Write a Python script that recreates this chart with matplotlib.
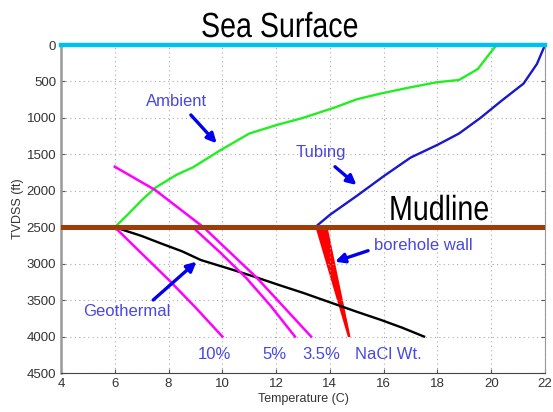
import matplotlib
matplotlib.use('Agg')
import matplotlib.pyplot as plt
from matplotlib.textpath import TextPath
from matplotlib.patches import PathPatch
from matplotlib.font_manager import FontProperties
from matplotlib.transforms import Affine2D, IdentityTransform

# data (temperature in C, depth in ft)
amb_t = [6.0, 6.5, 7.0, 7.5, 8.3, 8.9, 9.9, 11.0, 12.0, 13.0, 14.2, 15.0, 15.9, 17.0, 18.0, 18.8, 19.5, 19.95, 20.2]
amb_d = [2500, 2320, 2130, 1960, 1780, 1680, 1450, 1215, 1100, 1000, 855, 745, 665, 580, 510, 480, 330, 114, 0]

tub_t = [13.45, 14.0, 15.0, 16.0, 17.0, 18.0, 18.8, 19.6, 20.4, 21.2, 21.7, 22.0]
tub_d = [2500, 2330, 2070, 1800, 1545, 1370, 1215, 1000, 760, 530, 260, 0]

geo_t = [6.0, 6.5, 7.0, 7.7, 8.5, 9.2, 10.4, 11.2, 12.1, 13.0, 14.1, 15.0, 15.9, 16.7, 17.5]
geo_d = [2500, 2560, 2620, 2720, 2830, 2950, 3086, 3180, 3292, 3400, 3543, 3660, 3772, 3880, 4000]

nacl10_t = [6.0, 7.0, 8.0, 9.0, 10.0]
nacl10_d = [2500, 2860, 3220, 3600, 4000]
nacl5_t = [8.9, 9.9, 10.9, 11.8, 12.7]
nacl5_d = [2500, 2840, 3200, 3580, 4000]
nacl35_t = [6.0, 7.5, 9.3, 11.3, 13.3]
nacl35_d = [1670, 1989, 2500, 3200, 4000]

wall_d = [2500, 4000]
wall_left = [13.45, 14.65]
wall_right = [13.9, 14.75]

xticks = [4, 6, 8, 10, 12, 14, 16, 18, 20, 22]
yticks = [0, 500, 1000, 1500, 2000, 2500, 3000, 3500, 4000, 4500]

fig = plt.figure(figsize=(5.53, 4.12), dpi=100)
ax = fig.add_axes([61/553, 1 - 373/412, 484/553, 328/412])

ax.plot(amb_t, amb_d, color='#22EE22', lw=1.7)
ax.plot(tub_t, tub_d, color='#1818CC', lw=1.7)
ax.plot(geo_t, geo_d, color='black', lw=1.7)
for t, d in [(nacl10_t, nacl10_d), (nacl5_t, nacl5_d), (nacl35_t, nacl35_d)]:
    ax.plot(t, d, color='#FF00FF', lw=1.8)
ax.fill_betweenx(wall_d, wall_left, wall_right, color='#FF0000', lw=0)

ax.axhline(2500, color='#A03C0A', lw=3.6, zorder=5)
ax.axhline(0, color='#00C0F0', lw=3.2, zorder=6, clip_on=False)

ax.set_xlim(4, 22)
ax.set_ylim(4500, 0)
ax.set_xticks(xticks)
ax.set_yticks(yticks)
ax.grid(True, color='#AAAAAA', lw=0.8, linestyle=(0, (1, 3)))
ax.tick_params(direction='in', top=False, right=True, length=3, color='#555555',
               labelsize=9.5, labelcolor='#333333')
for s in ['left', 'right', 'bottom']:
    ax.spines[s].set_color('#999999')
ax.spines['left'].set_linewidth(1.8)
ax.spines['bottom'].set_color('#444444')
ax.set_xlabel('Temperature (C)', fontsize=9, color='#333333', labelpad=2, family='Liberation Sans')
ax.set_ylabel('TVDSS (ft)', fontsize=9, color='#333333', labelpad=2, family='Liberation Sans')
for lab in ax.get_xticklabels() + ax.get_yticklabels():
    lab.set_family('Liberation Sans')


# narrow big labels: Arial-like glyphs squeezed horizontally (pixel coords)
def narrow_text(s, x_px, base_px, size_px=34.9, squeeze=0.82):
    tp = TextPath((0, 0), s, size=size_px, prop=FontProperties(family='Liberation Sans'))
    tr = Affine2D().scale(squeeze, 1).translate(x_px, 412 - base_px)
    patch = PathPatch(tr.transform_path(tp), facecolor='black', edgecolor='none',
                      transform=IdentityTransform(), zorder=10)
    fig.add_artist(patch)


narrow_text('Sea Surface', 201, 37)
narrow_text('Mudline', 389, 220)

tc = '#4848E0'
ac = '#0000EE'
arrow = dict(arrowstyle='-|>', color=ac, lw=2.4, mutation_scale=14, shrinkA=0, shrinkB=0)
kw = dict(color=tc, fontsize=12, ha='center', va='center', family='Liberation Sans')
ax.text(8.31, 782, 'Ambient', **kw)
ax.annotate('', xy=(9.79, 1349), xytext=(8.83, 960), arrowprops=arrow)
ax.text(13.67, 1468, 'Tubing', **kw)
ax.annotate('', xy=(14.99, 1921), xytext=(14.19, 1670), arrowprops=arrow)
ax.text(6.45, 3663, 'Geothermal', **kw)
ax.annotate('', xy=(9.04, 2973), xytext=(7.43, 3498), arrowprops=arrow)
ax.text(17.49, 2757, 'borehole wall', **kw)
ax.annotate('', xy=(14.19, 2973), xytext=(15.42, 2822), arrowprops=arrow)

ax.text(9.69, 4253, '10%', **kw)
ax.text(11.92, 4253, '5%', **kw)
ax.text(13.67, 4253, '3.5%', **kw)
ax.text(16.19, 4253, 'NaCl Wt.', **kw)

plt.savefig('out.png', dpi=100)
